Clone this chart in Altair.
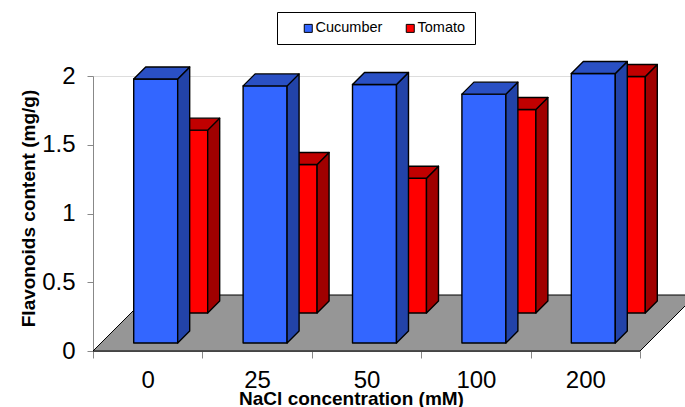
import altair as alt
import pandas as pd

# NaCl levels (mM) and flavonoid content (mg/g) per crop
concentrations = ["0", "25", "50", "100", "200"]
cucumber = [1.92, 1.87, 1.88, 1.81, 1.96]
tomato = [1.33, 1.08, 0.98, 1.48, 1.72]
series_names = ["Cucumber", "Tomato"]

# colours: front face, side face, top face
BLUE = ("#3366FF", "#2243A8", "#2A50C4")
RED = ("#FF0000", "#A00000", "#C00000")
FLOOR = "#969696"
FONT = "Liberation Sans"

# oblique projection: one unit of depth moves a point right and up by these data amounts
PX_X = 1 / 109.4
PX_Y = 1 / 137.5
FLOOR_DEPTH = 56
BAR_DEPTH = 12
BAR_WIDTH = 0.402
ROW_DEPTH = {"Cucumber": 8, "Tomato": 38}
N = len(concentrations)


def bar_parts(name, values):
    d = ROW_DEPTH[name]
    fronts, sides, tops = [], [], []
    for i, v in enumerate(values):
        x0 = i + 0.5 - BAR_WIDTH / 2 + d * PX_X
        x1 = x0 + BAR_WIDTH
        base = d * PX_Y
        top = base + v
        bx, by = BAR_DEPTH * PX_X, BAR_DEPTH * PX_Y
        fronts.append({"series": name, "x0": x0, "x1": x1, "y0": base, "y1": top})
        sides.append({"id": i, "x": x1, "lo": base, "hi": top})
        sides.append({"id": i, "x": x1 + bx, "lo": base + by, "hi": top + by})
        tops.append({"id": i, "y": top, "xa": x0, "xb": x1})
        tops.append({"id": i, "y": top + by, "xa": x0 + bx, "xb": x1 + bx})
    return pd.DataFrame(fronts), pd.DataFrame(sides), pd.DataFrame(tops)


floor = pd.DataFrame([
    {"y": 0.0, "xa": 0.0, "xb": float(N)},
    {"y": FLOOR_DEPTH * PX_Y, "xa": FLOOR_DEPTH * PX_X, "xb": N + FLOOR_DEPTH * PX_X},
])

label_list = "[" + ",".join(f"'{c}'" for c in concentrations) + "]"
x_axis = alt.Axis(
    values=[i * 0.5 for i in range(2 * N + 1)],
    labelExpr=f"datum.value % 1 === 0 ? '' : {label_list}[floor(datum.value)]",
    tickOpacity={"condition": {"test": "datum.value % 1 === 0", "value": 1}, "value": 0},
    tickSize=7, labelPadding=10, labelFontSize=24, labelOverlap=False, labelFlush=False,
    title="NaCl concentration (mM)", titleFontSize=19, titleFontWeight="bold",
    titleX=258, titleY=53, titleBaseline="alphabetic", titleAlign="center",
    grid=False,
)
y_axis = alt.Axis(
    values=[0, 0.5, 1, 1.5, 2], format=".1~f",
    tickSize=6, labelPadding=12, labelFontSize=24,
    title="Flavonoids content (mg/g)", titleFontSize=19, titleFontWeight="bold",
    titleAngle=-90, titleX=-59, titleY=132, titleBaseline="alphabetic", titleAlign="center",
    grid=False,
)
x_scale = alt.Scale(domain=[0, N], nice=False, zero=False)
y_scale = alt.Scale(domain=[0, 2], nice=False, zero=False)


def X(field):
    return alt.X(f"{field}:Q", scale=x_scale, axis=x_axis)


def Y(field):
    return alt.Y(f"{field}:Q", scale=y_scale, axis=y_axis)


color = alt.Color(
    "series:N",
    scale=alt.Scale(domain=series_names, range=[BLUE[0], RED[0]]),
    legend=alt.Legend(
        title=None, orient="none", legendX=184, legendY=-64, direction="horizontal",
        fillColor="white", strokeColor="black", padding=9,
        symbolType="square", symbolSize=64, symbolStrokeColor="black", symbolStrokeWidth=1,
        symbolOffset=15, labelOffset=0, columnPadding=5,
        labelFontSize=14.5, labelFont=FONT,
    ),
)

STROKE = {"stroke": "black", "strokeWidth": 1.4, "strokeJoin": "round"}

floor_layer = alt.Chart(floor).mark_area(
    orient="horizontal", fill=FLOOR, stroke="black", strokeWidth=1
).encode(y=Y("y"), x=X("xa"), x2="xb")


def bar_layers(name, values, colors):
    fr, sd, tp = bar_parts(name, values)
    front = alt.Chart(fr).mark_rect(**STROKE).encode(
        x=X("x0"), x2="x1", y=Y("y0"), y2="y1", color=color
    )
    side = alt.Chart(sd).mark_area(fill=colors[1], **STROKE).encode(
        x=X("x"), y=Y("lo"), y2="hi", detail="id:N"
    )
    top = alt.Chart(tp).mark_area(orient="horizontal", fill=colors[2], **STROKE).encode(
        y=Y("y"), x=X("xa"), x2="xb", detail="id:N"
    )
    return [front, side, top]


layers = [floor_layer] + bar_layers("Tomato", tomato, RED) + bar_layers("Cucumber", cucumber, BLUE)

chart = alt.layer(*layers).properties(
    width=547, height=275,
    padding={"left": 93, "top": 76, "right": 45, "bottom": 56},
    autosize=alt.AutoSizeParams(type="none"),
).configure_view(stroke=None).configure_axis(
    domainColor="black", tickColor="black", labelColor="black", titleColor="black",
    labelFont=FONT, titleFont=FONT, domainWidth=1, tickWidth=1,
).configure(background="white")

chart.save("out.html", embed_options={"renderer": "svg", "actions": False})
